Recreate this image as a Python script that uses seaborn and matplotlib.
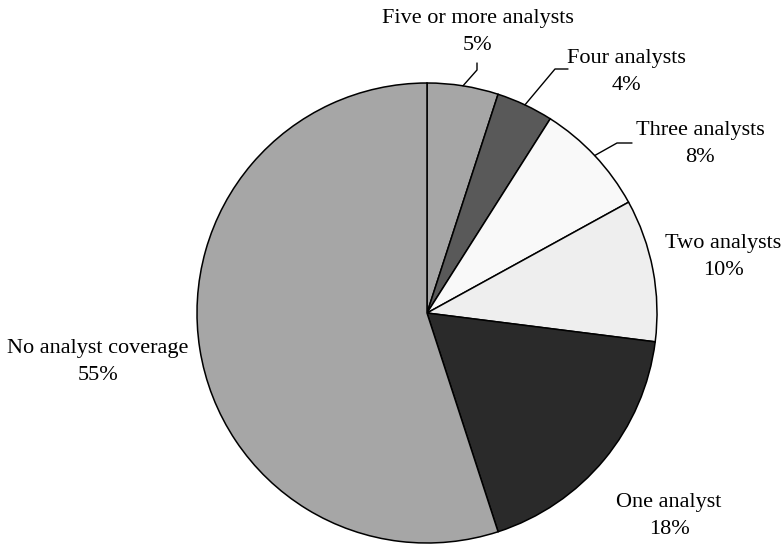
import matplotlib
matplotlib.use("Agg")
import matplotlib.pyplot as plt
import seaborn as sns
import numpy as np

sns.set_theme(style="white")
plt.rcParams['font.family'] = ['Liberation Serif', 'DejaVu Serif']

# data
labels = ['Five or more analysts', 'Four analysts', 'Three analysts',
          'Two analysts', 'One analyst', 'No analyst coverage']
shares = [5, 4, 8, 10, 18, 55]
colors = ['#a6a6a6', '#595959', '#f9f9f9', '#eeeeee', '#2a2a2a', '#a6a6a6']

# layout (pixel coords, y down)
cx, cy, R = 427, 313, 230
label_pos = [(478, 32), (626, 72), (700, 144), (723, 257), (669, 516), (98, 362)]
# leader elbows: (elbow point, end point) or None
leaders = [((477, 70), (477, 63)),
           ((555, 69), (568, 69)),
           ((617, 143), (632, 143)),
           None, None, None]

fig = plt.figure(figsize=(7.84, 5.45), dpi=100)
ax = fig.add_axes([0, 0, 1, 1])

wedges, _ = ax.pie(shares, colors=colors, center=(cx, cy), radius=R,
                   startangle=-90, counterclock=True, frame=True,
                   wedgeprops=dict(edgecolor='black', linewidth=1.1))
ax.set_xlim(0, 784)
ax.set_ylim(545, 0)
ax.set_aspect('equal')
ax.axis('off')

for w, lab, val, pos, ld in zip(wedges, labels, shares, label_pos, leaders):
    ax.text(pos[0], pos[1], f"{lab}\n{val}%", ha='center', va='center',
            fontsize=16, linespacing=1.6, color='black')
    if ld is not None:
        mid = np.deg2rad((w.theta1 + w.theta2) / 2)
        ax0 = cx + R * np.cos(mid)
        ay0 = cy + R * np.sin(mid)
        ax.plot([ax0, ld[0][0], ld[1][0]], [ay0, ld[0][1], ld[1][1]],
                color='black', linewidth=1)

fig.savefig('out.png', dpi=100)
